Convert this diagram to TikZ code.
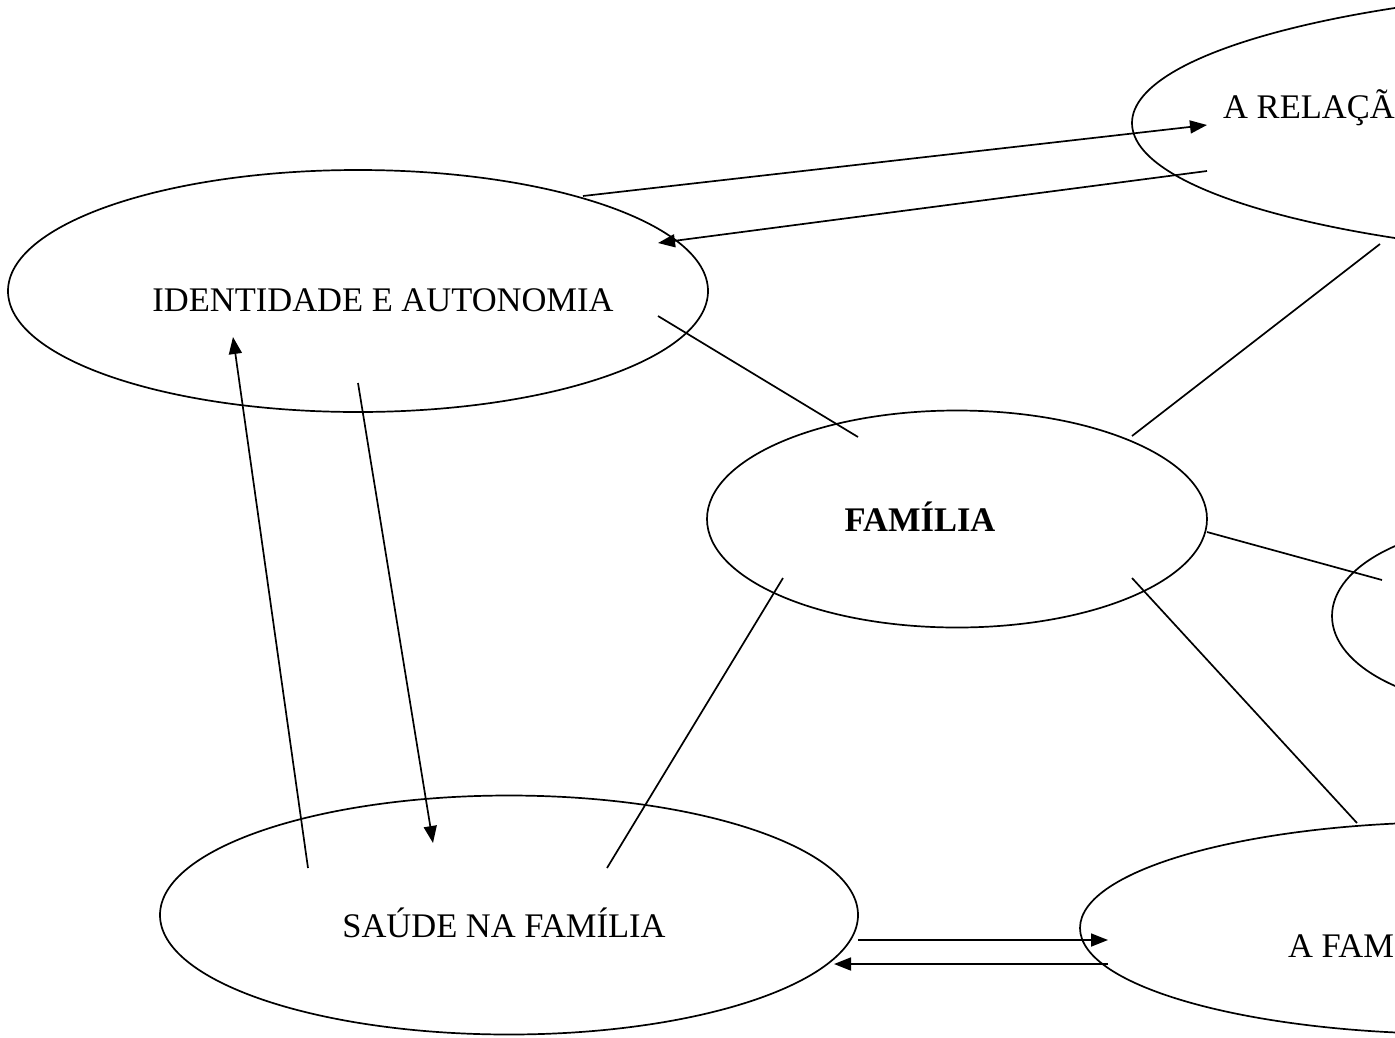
\documentclass[tikz,border=0pt]{standalone}
\usepackage{fontspec}
\setmainfont{Liberation Serif}
\usetikzlibrary{shapes.geometric,arrows.meta}
\begin{document}
\begin{tikzpicture}[x=1pt,y=-1pt,
  ell/.style={draw,ellipse,line width=1.7pt,inner sep=0pt},
  lbl/.style={inner sep=0pt,font=\fontsize{34.5}{40}\selectfont},
  conn/.style={line width=1.7pt},
  arr/.style={conn,-{Triangle[length=17pt,width=13pt]}}]
\useasboundingbox (0,0) rectangle (1395,1037);
\clip (0,0) rectangle (1395,1037);
% ellipses
\node[ell,minimum width=700pt,minimum height=242pt] (ida) at (358,291) {};
\node[ell,minimum width=500pt,minimum height=217pt] (fam) at (957,519) {};
\node[ell,minimum width=698pt,minimum height=239pt] (sau) at (509,915) {};
\node[ell,minimum width=1152pt,minimum height=274pt] (rel) at (1708,123) {};
\node[ell,minimum width=360pt,minimum height=184pt] (mid) at (1512,616) {};
\node[ell,minimum width=760pt,minimum height=212pt] (afa) at (1460,928) {};
% texts
\node[lbl] (tida) at (383,300) {IDENTIDADE E AUTONOMIA};
\node[lbl,font=\fontsize{34.5}{40}\selectfont\bfseries] (tfam) at (920,517) {FAMÍLIA};
\node[lbl] (tsau) at (504,923) {SAÚDE NA FAMÍLIA};
\node[lbl,anchor=base west] (trel) at (1223,118) {A RELAÇÃO};
\node[lbl,anchor=base west] (tafa) at (1288,957) {A FAMÍLIA};
% connector end points
\coordinate (p1) at (583,196);  \coordinate (q1) at (1207,125);
\coordinate (p2) at (1207,171); \coordinate (q2) at (658,243);
\coordinate (p3) at (658,316);  \coordinate (q3) at (858,437);
\coordinate (p4) at (1132,436); \coordinate (q4) at (1380,244);
\coordinate (p5) at (1207,532); \coordinate (q5) at (1382,580);
\coordinate (p6) at (1132,578); \coordinate (q6) at (1357,823);
\coordinate (p7) at (783,578);  \coordinate (q7) at (607,868);
\coordinate (p8) at (358,383);  \coordinate (q8) at (433,843);
\coordinate (p9) at (308,868);  \coordinate (q9) at (233,337);
\coordinate (p10) at (858,940); \coordinate (q10) at (1108,940);
\coordinate (p11) at (1108,964);\coordinate (q11) at (834,964);
% connectors
\draw[arr] (p1) -- (q1);
\draw[arr] (p2) -- (q2);
\draw[conn] (p3) -- (q3);
\draw[conn] (p4) -- (q4);
\draw[conn] (p5) -- (q5);
\draw[conn] (p6) -- (q6);
\draw[conn] (p7) -- (q7);
\draw[arr] (p8) -- (q8);
\draw[arr] (p9) -- (q9);
\draw[arr] (p10) -- (q10);
\draw[arr] (p11) -- (q11);
\end{tikzpicture}
\end{document}
